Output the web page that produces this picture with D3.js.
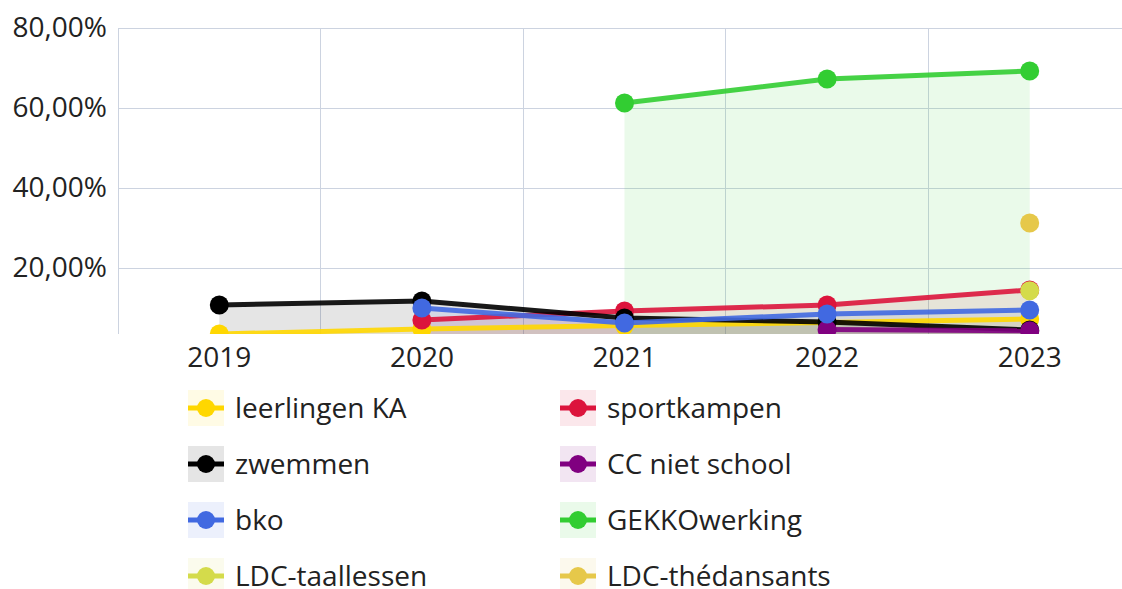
<!DOCTYPE html>
<html><head><meta charset="utf-8">
<script src="https://cdn.jsdelivr.net/npm/d3@7"></script>
<style>
html,body{margin:0;padding:0;background:#fff;}
svg{display:block;font-family:"Open Sans","Noto Sans",sans-serif;}
</style></head>
<body><svg id="c" width="1122" height="589"></svg>
<script>
const years = ["2019","2020","2021","2022","2023"];
const seriesNames = ["leerlingen KA","sportkampen","zwemmen","CC niet school","bko","GEKKOwerking","LDC-taallessen","LDC-thédansants"];
const seriesColors = ["#FFD700","#DC143C","#000000","#800080","#4169E1","#32CD32","#D4DB4B","#E6C84A"];
const leerlingenKA = [3.5, 4.75, 5.6, 6.4, 7.25];
const sportkampen = [null, 7.0, 9.25, 10.75, 14.5];
const zwemmen = [10.75, 11.75, 7.5, 6.5, 4.5];
const ccNietSchool = [null, null, null, 4.6, 4.3];
const bko = [null, 10.0, 6.25, 8.5, 9.5];
const gekko = [null, null, 61.25, 67.25, 69.25];
const ldcTaallessen = [null, null, null, null, 14.3];
const ldcThedansants = [null, null, null, null, 31.25];
const yTicks = [20, 40, 60, 80];
const yMin = 3.5, yMax = 80;

const allValues = [leerlingenKA, sportkampen, zwemmen, ccNietSchool, bko, gekko, ldcTaallessen, ldcThedansants];

const svg = d3.select("#c");
const L = 118, R = 1131, T = 28, B = 334;
const FS = 28;
const x = d3.scaleBand().domain(years).range([L, R]).paddingInner(0).paddingOuter(0);
const y = d3.scaleLinear().domain([yMin, yMax]).range([B, T]);
const grid = "#CCD3E0";

// grid
const g = svg.append("g");
g.selectAll(".vg").data(d3.range(years.length + 1)).enter().append("line")
  .attr("x1", i => L + i * x.step()).attr("x2", i => L + i * x.step())
  .attr("y1", T).attr("y2", B).attr("stroke", grid).attr("stroke-width", 1).attr("shape-rendering","crispEdges");
g.selectAll(".hg").data(yTicks).enter().append("line")
  .attr("x1", L).attr("x2", R).attr("y1", d => y(d)).attr("y2", d => y(d))
  .attr("stroke", grid).attr("stroke-width", 1).attr("shape-rendering","crispEdges");

// y axis labels
const fmt = d => d3.format(".2f")(d).replace(".", ",") + "%";
const yAxis = d3.axisLeft(y).tickValues(yTicks).tickFormat(fmt).tickSize(0).tickPadding(11);
const ya = svg.append("g").attr("transform", `translate(${L},0)`).call(yAxis);
ya.select(".domain").remove();
ya.selectAll("text").attr("font-size", FS).attr("fill", "#222").attr("font-family", '"Open Sans","Noto Sans",sans-serif');

// x axis labels
const xAxis = d3.axisBottom(x).tickSize(0).tickPadding(13);
const xa = svg.append("g").attr("transform", `translate(0,${B})`).call(xAxis);
xa.select(".domain").remove();
xa.selectAll("text").attr("font-size", FS).attr("fill", "#222").attr("font-family", '"Open Sans","Noto Sans",sans-serif');

// clip
svg.append("clipPath").attr("id", "plotclip").append("rect")
  .attr("x", L - 20).attr("y", T).attr("width", R - L + 40).attr("height", B - T);

const plot = svg.append("g").attr("clip-path", "url(#plotclip)");
const cx = yr => x(yr) + x.bandwidth() / 2;

const area = d3.area().defined(d => d.v != null).x(d => cx(d.yr)).y0(B).y1(d => y(d.v));
const line = d3.line().defined(d => d.v != null).x(d => cx(d.yr)).y(d => y(d.v));

const series = seriesNames.map((n, i) => ({
  name: n, color: seriesColors[i],
  pts: years.map((yr, j) => ({ yr, v: allValues[i][j] }))
}));

// fills
series.forEach(s => {
  plot.append("path").datum(s.pts).attr("d", area)
    .attr("fill", s.color).attr("fill-opacity", 0.1);
});
// lines + dots
series.forEach(s => {
  plot.append("path").datum(s.pts).attr("d", line)
    .attr("fill", "none").attr("stroke", s.color).attr("stroke-width", 5)
    .attr("stroke-opacity", 0.9).attr("stroke-linejoin", "round");
  plot.selectAll(null).data(s.pts.filter(d => d.v != null)).enter().append("circle")
    .attr("cx", d => cx(d.yr)).attr("cy", d => y(d.v)).attr("r", 9.5)
    .attr("fill", s.color);
});

// legend
const leg = svg.append("g");
series.forEach((s, i) => {
  const col = i % 2, row = Math.floor(i / 2);
  const lx = col === 0 ? 188 : 560;
  const ly = 408 + row * 56;
  const gg = leg.append("g").attr("transform", `translate(${lx},${ly})`);
  gg.append("rect").attr("x", 0).attr("y", -18).attr("width", 36).attr("height", 36)
    .attr("fill", s.color).attr("fill-opacity", 0.1);
  gg.append("line").attr("x1", 0).attr("x2", 36).attr("y1", 0).attr("y2", 0)
    .attr("stroke", s.color).attr("stroke-width", 5);
  gg.append("circle").attr("cx", 18).attr("cy", 0).attr("r", 9).attr("fill", s.color);
  gg.append("text").attr("x", 47).attr("y", 0).attr("dy", "0.35em")
    .attr("font-size", FS).attr("fill", "#222").text(s.name);
});
</script></body></html>
